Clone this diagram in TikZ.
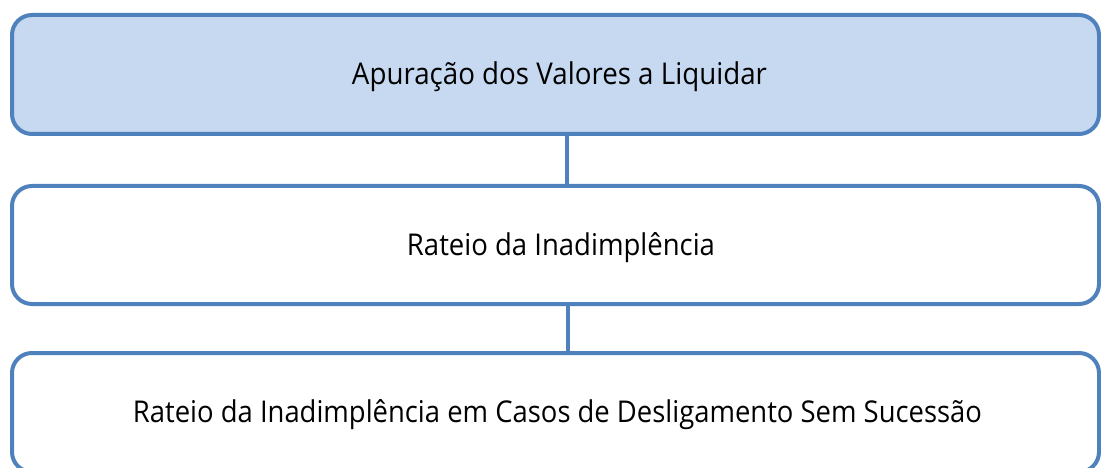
\documentclass[tikz,border=0pt]{standalone}
\usepackage{fontspec}
\setmainfont{Open Sans}
\usepackage{graphicx}
\definecolor{boxline}{RGB}{79,129,189}
\definecolor{boxfill}{RGB}{198,217,241}
\begin{document}
\begin{tikzpicture}[x=1pt,y=-1pt,
  stagebox/.style={draw=boxline,line width=4pt,rounded corners=20pt,minimum width=1087pt,inner sep=0pt,fill=white},
  stagetext/.style={anchor=base,inner sep=0pt,font=\fontsize{30}{36}\selectfont,text=black},
  link/.style={draw=boxline,line width=4pt}]
\useasboundingbox (0,0) rectangle (1101,468);
\clip (0,0) rectangle (1101,468);
\coordinate (cx1) at (567,0);
\coordinate (cx2) at (568,0);
\node[stagebox,fill=boxfill,minimum height=119pt] (b1) at (555.5,74.5) {};
\node[stagebox,minimum height=118pt] (b2) at (555.5,245) {};
\node[stagebox,minimum height=119pt] (b3) at (555.5,412.5) {};
\draw[link] (b1.south -| cx1) -- (b2.north -| cx1);
\draw[link] (b2.south -| cx2) -- (b3.north -| cx2);
\node[stagetext] (t1) at (559.5,85) {\resizebox{415pt}{\height}{Apuração dos Valores a Liquidar}};
\node[stagetext] (t2) at (561,255) {\resizebox{308pt}{\height}{Rateio da Inadimplência}};
\node[stagetext] (t3) at (557.5,422) {\resizebox{849pt}{\height}{Rateio da Inadimplência em Casos de Desligamento Sem Sucessão}};
\end{tikzpicture}
\end{document}
